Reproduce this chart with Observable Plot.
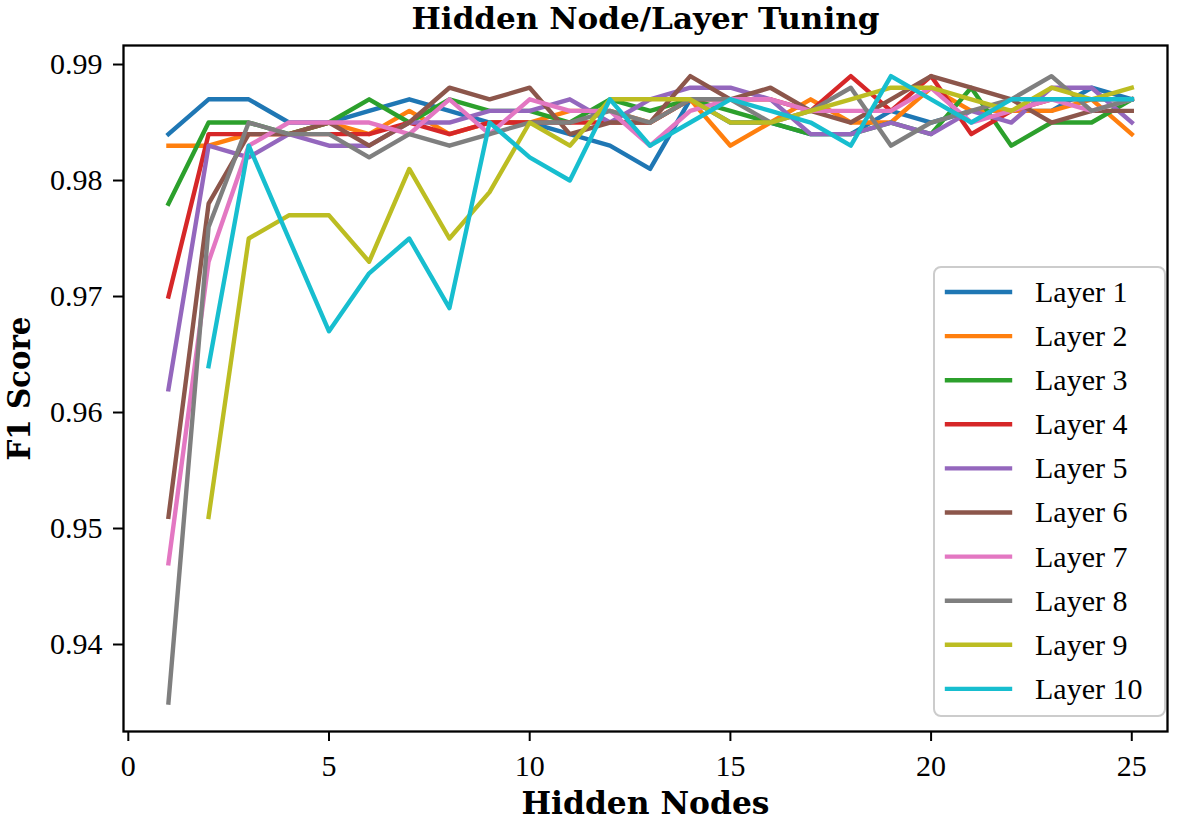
<!DOCTYPE html>
<html>
<head>
<meta charset="utf-8">
<script src="https://cdn.jsdelivr.net/npm/d3@7"></script>
<script src="https://cdn.jsdelivr.net/npm/@observablehq/plot@0.6"></script>
<style>
  html, body { margin: 0; padding: 0; background: #fff; }
  #chart { width: 1183px; height: 820px; }
</style>
</head>
<body>
<div id="chart"></div>
<script>
// ---- data ----
const hiddenNodes = [1, 2, 3, 4, 5, 6, 7, 8, 9, 10, 11, 12, 13, 14, 15, 16, 17, 18, 19, 20, 21, 22, 23, 24, 25];
const layerNames = ["Layer 1", "Layer 2", "Layer 3", "Layer 4", "Layer 5", "Layer 6", "Layer 7", "Layer 8", "Layer 9", "Layer 10"];
const layer1  = [0.984, 0.987, 0.987, 0.985, 0.985, 0.986, 0.987, 0.986, 0.985, 0.985, 0.984, 0.983, 0.981, 0.987, 0.985, 0.985, 0.984, 0.984, 0.986, 0.985, 0.986, 0.986, 0.986, 0.988, 0.987];
const layer2  = [0.983, 0.983, 0.984, 0.984, 0.985, 0.984, 0.986, 0.984, 0.985, 0.985, 0.986, 0.986, 0.985, 0.987, 0.983, 0.985, 0.987, 0.985, 0.985, 0.988, 0.986, 0.986, 0.986, 0.987, 0.984];
const layer3  = [0.978, 0.985, 0.985, 0.984, 0.985, 0.987, 0.985, 0.987, 0.986, 0.986, 0.985, 0.987, 0.986, 0.987, 0.986, 0.985, 0.984, 0.984, 0.985, 0.984, 0.988, 0.983, 0.985, 0.985, 0.987];
const layer4  = [0.970, 0.984, 0.984, 0.984, 0.984, 0.984, 0.985, 0.984, 0.985, 0.985, 0.985, 0.985, 0.985, 0.987, 0.987, 0.987, 0.986, 0.989, 0.986, 0.989, 0.984, 0.986, 0.987, 0.987, 0.987];
const layer5  = [0.962, 0.983, 0.982, 0.984, 0.983, 0.983, 0.985, 0.985, 0.986, 0.986, 0.987, 0.985, 0.987, 0.988, 0.988, 0.987, 0.984, 0.984, 0.985, 0.984, 0.986, 0.985, 0.988, 0.988, 0.985];
const layer6  = [0.951, 0.978, 0.984, 0.984, 0.985, 0.983, 0.985, 0.988, 0.987, 0.988, 0.984, 0.985, 0.985, 0.989, 0.987, 0.988, 0.986, 0.985, 0.987, 0.989, 0.988, 0.987, 0.985, 0.986, 0.986];
const layer7  = [0.947, 0.973, 0.983, 0.985, 0.985, 0.985, 0.984, 0.987, 0.984, 0.987, 0.986, 0.986, 0.983, 0.986, 0.987, 0.987, 0.986, 0.986, 0.986, 0.988, 0.985, 0.986, 0.987, 0.986, 0.987];
const layer8  = [0.935, 0.976, 0.985, 0.984, 0.984, 0.982, 0.984, 0.983, 0.984, 0.985, 0.985, 0.986, 0.985, 0.987, 0.987, 0.985, 0.986, 0.988, 0.983, 0.985, 0.986, 0.987, 0.989, 0.986, 0.987];
const layer9  = [null, 0.951, 0.975, 0.977, 0.977, 0.973, 0.981, 0.975, 0.979, 0.985, 0.983, 0.987, 0.987, 0.987, 0.985, 0.985, 0.986, 0.987, 0.988, 0.988, 0.987, 0.986, 0.988, 0.987, 0.988];
const layer10 = [null, 0.964, 0.983, 0.975, 0.967, 0.972, 0.975, 0.969, 0.985, 0.982, 0.980, 0.987, 0.983, 0.985, 0.987, 0.986, 0.985, 0.983, 0.989, 0.987, 0.985, 0.987, 0.987, 0.987, 0.987];
const xTicks = [0, 5, 10, 15, 20, 25];
const yTicks = [0.94, 0.95, 0.96, 0.97, 0.98, 0.99];
const palette = ["#1f77b4", "#ff7f0e", "#2ca02c", "#d62728", "#9467bd", "#8c564b", "#e377c2", "#7f7f7f", "#bcbd22", "#17becf"];
const titleText = "Hidden Node/Layer Tuning";
const xLabel = "Hidden Nodes";
const yLabel = "F1 Score";

const series = [layer1, layer2, layer3, layer4, layer5, layer6, layer7, layer8, layer9, layer10];
const rows = [];
series.forEach((vals, i) => {
  vals.forEach((v, j) => {
    if (v != null) rows.push({layer: layerNames[i], nodes: hiddenNodes[j], f1: v});
  });
});

const serif = "'Liberation Serif', 'DejaVu Serif', serif";
const boldSerif = "'DejaVu Serif', serif";

const svg = Plot.plot({
  width: 1183,
  height: 820,
  marginLeft: 123,
  marginRight: 16,
  marginTop: 45,
  marginBottom: 89,
  style: {fontFamily: serif, fontSize: "30px", background: "#fff", color: "#000"},
  x: {domain: [-0.12, 25.89]},
  y: {domain: [0.9325, 0.99164]},
  color: {domain: layerNames, range: palette},
  marks: [
    Plot.axisX({ticks: xTicks, tickSize: 10, tickPadding: 13, tickFormat: d => String(d), label: null, strokeWidth: 2, fontSize: 30, fontFamily: serif}),
    Plot.axisY({ticks: yTicks, tickSize: 10, tickPadding: 11, tickFormat: d3.format(".2f"), label: null, strokeWidth: 2, fontSize: 30, fontFamily: serif}),
    Plot.line(rows, {x: "nodes", y: "f1", z: "layer", stroke: "layer", strokeWidth: 4.4, strokeLinecap: "square", strokeLinejoin: "round"}),
    Plot.frame({stroke: "#000", strokeWidth: 2.3}),
    Plot.text([titleText], {text: d => d, frameAnchor: "top", lineAnchor: "middle", textAnchor: "middle", dy: -26, fontSize: 30, fontWeight: "bold", fontFamily: boldSerif}),
    Plot.text([xLabel], {text: d => d, frameAnchor: "bottom", lineAnchor: "middle", textAnchor: "middle", dy: 73, fontSize: 31, fontWeight: "bold", fontFamily: boldSerif}),
    Plot.text([yLabel], {text: d => d, frameAnchor: "left", lineAnchor: "middle", textAnchor: "middle", dx: -103, rotate: -90, fontSize: 31, fontWeight: "bold", fontFamily: boldSerif})
  ]
});

// stretch the bold labels to the reference widths
const root = d3.select(svg);
const lengths = {[titleText]: 468, [xLabel]: 248, [yLabel]: 144};
root.selectAll("text").each(function() {
  const t = this.textContent;
  if (lengths[t]) {
    d3.select(this).attr("textLength", lengths[t]).attr("lengthAdjust", "spacingAndGlyphs");
  }
});

// legend (lower right, inside the axes)
const lg = root.append("g").attr("font-family", serif).attr("font-size", 30).attr("text-anchor", "start");
lg.append("rect")
  .attr("x", 934).attr("y", 267).attr("width", 231).attr("height", 449)
  .attr("rx", 7).attr("ry", 7)
  .attr("fill", "#fff").attr("fill-opacity", 0.8)
  .attr("stroke", "#cccccc").attr("stroke-width", 2);
layerNames.forEach((name, i) => {
  const cy = 292 + i * 44.1;
  lg.append("line")
    .attr("x1", 947).attr("x2", 1010).attr("y1", cy).attr("y2", cy)
    .attr("stroke", palette[i]).attr("stroke-width", 4.4).attr("stroke-linecap", "square");
  lg.append("text")
    .attr("x", 1035).attr("y", cy).attr("dy", "0.33em")
    .attr("text-anchor", "start")
    .attr("fill", "#000")
    .text(name);
});

document.getElementById("chart").appendChild(svg);
</script>
</body>
</html>
